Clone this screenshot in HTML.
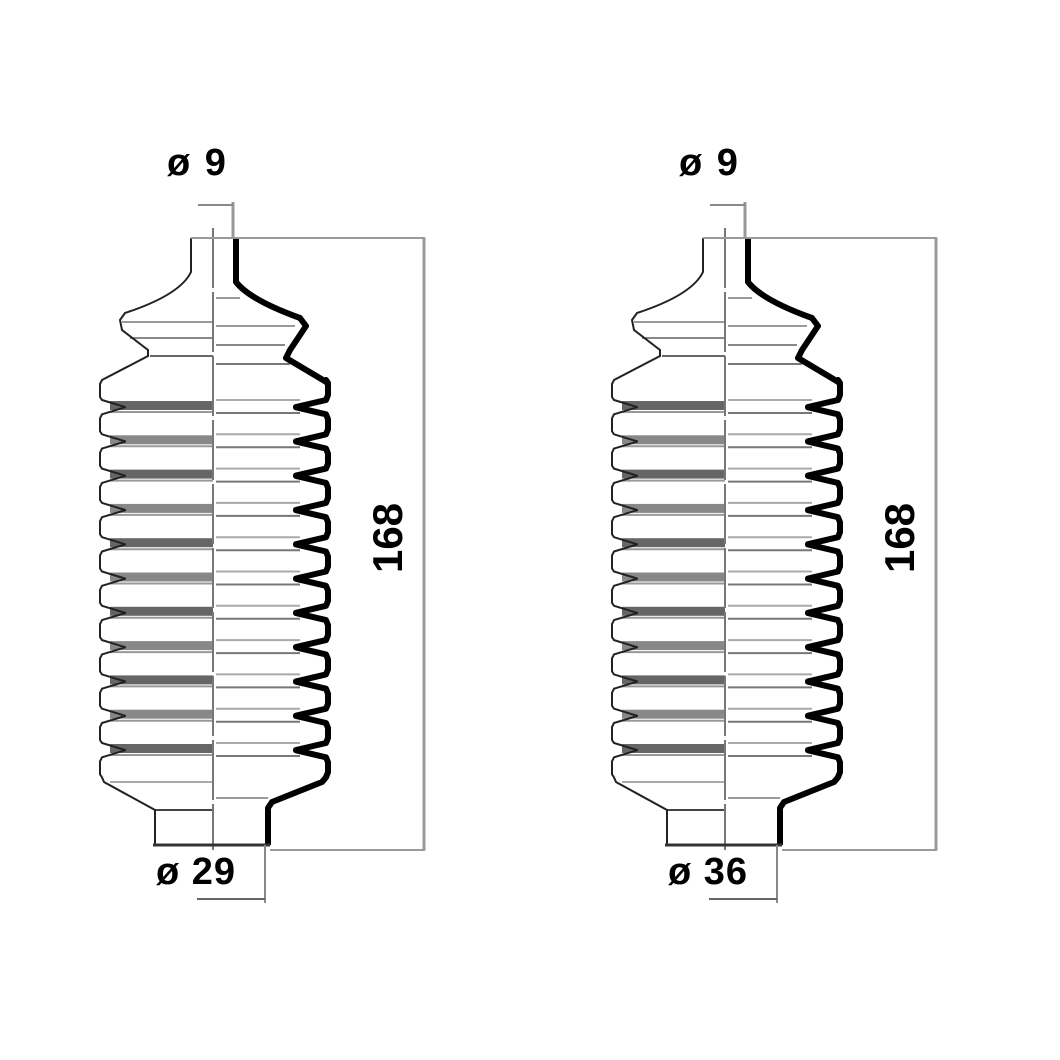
<!DOCTYPE html>
<html><head><style>
html,body{margin:0;padding:0;background:#fff;width:1060px;height:1060px;overflow:hidden}
svg{display:block}
text{font-family:"Liberation Sans",sans-serif;font-weight:bold;fill:#000}
</style></head><body>
<svg id="s" width="1060" height="1060" viewBox="0 0 1060 1060" xmlns="http://www.w3.org/2000/svg">
<g id="b0"></g>
<g id="b1" transform="translate(512,0)"></g>
<text x="167" y="175" font-size="38" letter-spacing="2">ø 9</text>
<text x="679" y="175" font-size="38" letter-spacing="2">ø 9</text>
<text x="156" y="884" font-size="38" letter-spacing="1">ø 29</text>
<text x="668" y="884" font-size="38" letter-spacing="1">ø 36</text>
<text transform="translate(402,538) rotate(-90)" font-size="42" text-anchor="middle">168</text>
<text transform="translate(914,538) rotate(-90)" font-size="42" text-anchor="middle">168</text>
</svg>
<script>
var ridges=[];for(var i=0;i<12;i++)ridges.push(390+i*34.3);
var L="M191,238 L191,272 Q180,295 125,313 L120,320 L122,330 L148,350 L148,356 L102,380 ";
var R="M236,238 L236,282 Q250,300 300,318 L306,326 L290,350 L286,358 L328,383 ";
var g="";
ridges.forEach(function(y,i){
 if(i>0){L+="L125,"+(y-17)+" ";R+="L296,"+(y-17)+" ";}
 L+="L102,"+(y-10)+" L100,"+(y-6)+" L100,"+(y+7)+" L102,"+(y+10)+" ";
 R+="L326,"+(y-10)+" L328,"+(y-5)+" L328,"+(y+5)+" L326,"+(y+10)+" ";
 if(i<11){L+="L125,"+(y+17)+" ";R+="L296,"+(y+17)+" ";
  var v=y+17;
  g+='<rect x="110" y="'+(v-6)+'" width="103" height="9" fill="'+(i%2?'#888':'#666')+'"/>';
  g+='<line x1="110" y1="'+(v+5)+'" x2="213" y2="'+(v+5)+'" stroke="#999" stroke-width="2"/>';
  g+='<line x1="216" y1="'+(v-7)+'" x2="300" y2="'+(v-7)+'" stroke="#aaa" stroke-width="2"/>';
  g+='<line x1="216" y1="'+(v+6)+'" x2="300" y2="'+(v+6)+'" stroke="#777" stroke-width="2"/>';
 }
});
L+="L104,782 L155,810 L155,845";
R+="L322,782 L272,802 L268,808 L268,845";
g+='<line x1="122" y1="322" x2="213" y2="322" stroke="#999" stroke-width="2"/>';
g+='<line x1="130" y1="338" x2="213" y2="338" stroke="#888" stroke-width="2"/>';
g+='<line x1="150" y1="356" x2="213" y2="356" stroke="#666" stroke-width="2"/>';
g+='<line x1="216" y1="298" x2="240" y2="298" stroke="#999" stroke-width="2"/>';
g+='<line x1="216" y1="326" x2="295" y2="326" stroke="#999" stroke-width="2"/>';
g+='<line x1="216" y1="345" x2="285" y2="345" stroke="#888" stroke-width="2"/>';
g+='<line x1="216" y1="364" x2="290" y2="364" stroke="#777" stroke-width="2"/>';
g+='<line x1="110" y1="782" x2="213" y2="782" stroke="#aaa" stroke-width="2"/>';
g+='<line x1="155" y1="810" x2="213" y2="810" stroke="#444" stroke-width="2"/>';
g+='<line x1="216" y1="798" x2="268" y2="798" stroke="#999" stroke-width="2"/>';
var out=g;
out+='<path d="'+L+'" fill="none" stroke="#222" stroke-width="2"/>';
out+='<path d="'+R+'" fill="none" stroke="#000" stroke-width="6" stroke-linejoin="round"/>';
out+='<line x1="213" y1="228" x2="213" y2="850" stroke="#777" stroke-width="2" stroke-dasharray="60,4"/>';
out+='<line x1="153" y1="845" x2="270" y2="845" stroke="#333" stroke-width="3"/>';
out+='<line x1="191" y1="238" x2="425" y2="238" stroke="#999" stroke-width="2"/>';
out+='<line x1="424" y1="238" x2="424" y2="850" stroke="#999" stroke-width="3"/>';
out+='<line x1="270" y1="850" x2="425" y2="850" stroke="#999" stroke-width="2"/>';
out+='<line x1="233" y1="202" x2="233" y2="238" stroke="#999" stroke-width="3"/>';
out+='<line x1="198" y1="205" x2="233" y2="205" stroke="#888" stroke-width="2"/>';
out+='<line x1="265" y1="845" x2="265" y2="903" stroke="#888" stroke-width="2"/>';
out+='<line x1="197" y1="899" x2="265" y2="899" stroke="#666" stroke-width="2"/>';
document.getElementById("b0").innerHTML=out;
document.getElementById("b1").innerHTML=out;
</script>
</body></html>
